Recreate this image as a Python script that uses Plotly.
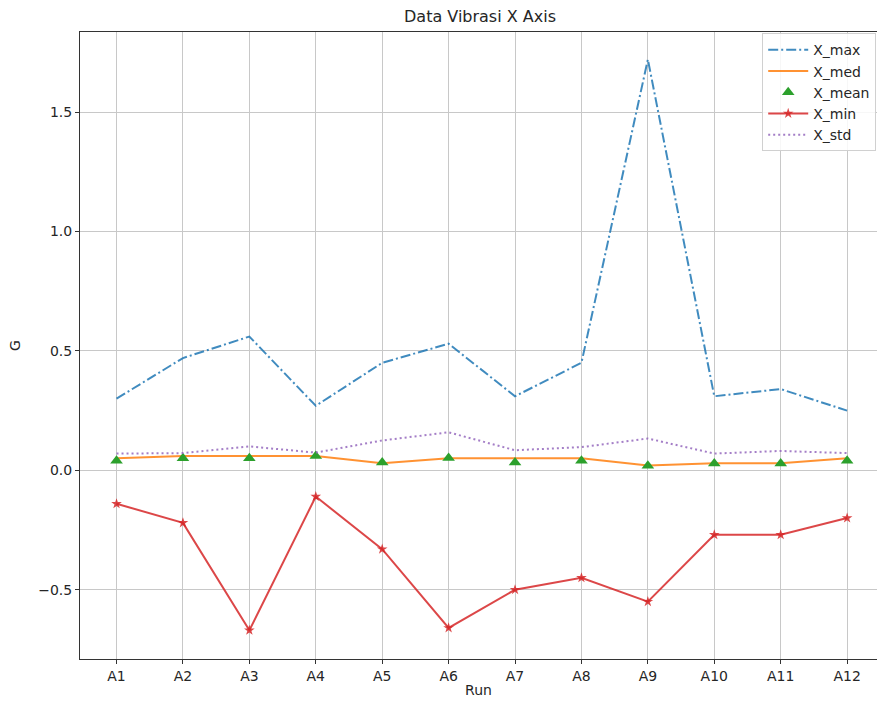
import plotly.graph_objects as go

runs = ["A1", "A2", "A3", "A4", "A5", "A6", "A7", "A8", "A9", "A10", "A11", "A12"]
x_max = [0.30, 0.47, 0.56, 0.27, 0.45, 0.53, 0.31, 0.45, 1.72, 0.31, 0.34, 0.25]
x_med = [0.05, 0.06, 0.06, 0.06, 0.03, 0.05, 0.05, 0.05, 0.02, 0.03, 0.03, 0.05]
x_mean = [0.04, 0.05, 0.05, 0.06, 0.033, 0.052, 0.033, 0.04, 0.019, 0.028, 0.028, 0.04]
x_min = [-0.14, -0.22, -0.67, -0.11, -0.33, -0.66, -0.50, -0.45, -0.55, -0.27, -0.27, -0.20]
x_std = [0.07, 0.072, 0.10, 0.074, 0.125, 0.159, 0.084, 0.097, 0.133, 0.07, 0.081, 0.072]

BLUE = "rgba(31,119,180,0.85)"
ORANGE = "rgba(255,127,14,0.85)"
GREEN = "rgba(44,160,44,1)"
RED = "rgba(214,39,40,0.85)"
PURPLE = "rgba(148,103,189,0.85)"

FONT = "DejaVu Sans"

fig = go.Figure()
fig.add_trace(go.Scatter(x=runs, y=x_max, name="X_max", mode="lines",
                         line=dict(color=BLUE, width=2, dash="10px,3px,2px,3px")))
fig.add_trace(go.Scatter(x=runs, y=x_med, name="X_med", mode="lines",
                         line=dict(color=ORANGE, width=2)))
fig.add_trace(go.Scatter(x=runs, y=x_mean, name="X_mean", mode="markers",
                         marker=dict(symbol="triangle-up", color=GREEN, size=11)))
fig.add_trace(go.Scatter(x=runs, y=x_min, name="X_min", mode="lines+markers",
                         line=dict(color=RED, width=2),
                         marker=dict(symbol="star", color=RED, size=8)))
fig.add_trace(go.Scatter(x=runs, y=x_std, name="X_std", mode="lines",
                         line=dict(color=PURPLE, width=2, dash="2px,3px")))

axis_common = dict(
    showline=True, linecolor="#333333", linewidth=1,
    showgrid=True, gridcolor="#c8c8c8", gridwidth=1,
    ticks="outside", ticklen=4, tickcolor="#333333",
    tickfont=dict(family=FONT, size=14, color="#262626"),
    zeroline=False,
)

fig.update_layout(
    width=877, height=703,
    margin=dict(l=80, r=0, t=32, b=44),
    paper_bgcolor="white", plot_bgcolor="white",
    font=dict(family=FONT, color="#262626"),
    title=dict(text="Data Vibrasi X Axis", x=480 / 877, xanchor="center",
               y=1 - 16 / 703, yanchor="middle",
               font=dict(family=FONT, size=16, color="#262626")),
    xaxis=dict(axis_common, type="category", range=[-0.55, 11.45], mirror=True,
               title=dict(text="Run", font=dict(family=FONT, size=14), standoff=2)),
    yaxis=dict(axis_common, range=[-0.79, 1.835], mirror=False,
               tickvals=[-0.5, 0.0, 0.5, 1.0, 1.5],
               ticktext=["\u22120.5", "0.0", "0.5", "1.0", "1.5"],
               title=dict(text="G", font=dict(family=FONT, size=14), standoff=14)),
    legend=dict(x=0.999, y=0.998, xanchor="right", yanchor="top",
                bgcolor="rgba(255,255,255,0.85)", bordercolor="#d0d0d0", borderwidth=1,
                font=dict(family=FONT, size=14, color="#262626"),
                itemwidth=40, tracegroupgap=0),
    showlegend=True,
)

fig.write_html("out.html")
